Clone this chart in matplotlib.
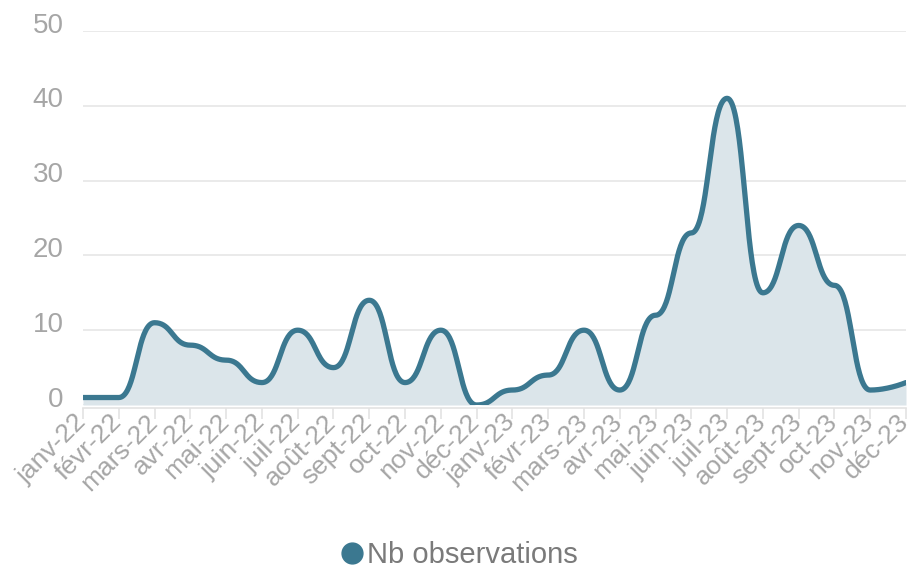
import numpy as np
import matplotlib
matplotlib.use("Agg")
import matplotlib.pyplot as plt
import matplotlib.transforms as mtransforms
from matplotlib.lines import Line2D

months = ["janv-22", "févr-22", "mars-22", "avr-22", "mai-22", "juin-22", "juil-22",
          "août-22", "sept-22", "oct-22", "nov-22", "déc-22", "janv-23", "févr-23",
          "mars-23", "avr-23", "mai-23", "juin-23", "juil-23", "août-23", "sept-23",
          "oct-23", "nov-23", "déc-23"]
observations = [1, 1, 11, 8, 6, 3, 10, 5, 14, 3, 10, 0, 2, 4, 10, 2, 12, 23, 41, 15, 24, 16, 2, 3]
yticks = [0, 10, 20, 30, 40, 50]


def smooth_path(x, y, smooth=0.5, n=40):
    """Cubic Bezier smoothing with horizontal tangents at each point (monotone in x)."""
    x = np.asarray(x, float)
    y = np.asarray(y, float)
    N = len(x)
    xs, ys = [], []
    for i in range(N - 1):
        dx = x[i + 1] - x[i]
        t = np.linspace(0, 1, n, endpoint=(i == N - 2))
        p0 = (x[i], y[i])
        p1 = (x[i] + smooth * dx, y[i]) if i > 0 else p0
        p3 = (x[i + 1], y[i + 1])
        p2 = (x[i + 1] - smooth * dx, y[i + 1]) if i + 1 < N - 1 else p3
        a = (1 - t) ** 3
        b = 3 * (1 - t) ** 2 * t
        c = 3 * (1 - t) * t ** 2
        d = t ** 3
        xs.append(a * p0[0] + b * p1[0] + c * p2[0] + d * p3[0])
        ys.append(a * p0[1] + b * p1[1] + c * p2[1] + d * p3[1])
    return np.concatenate(xs), np.concatenate(ys)


plt.rcParams['font.family'] = ['Liberation Sans', 'DejaVu Sans']

fig = plt.figure(figsize=(9.13, 5.70), dpi=100)
ax = fig.add_axes([83 / 913, 165 / 570, 823 / 913, 374 / 570])
for s in ["top", "right", "left"]:
    ax.spines[s].set_visible(False)
ax.spines["bottom"].set_position(("outward", 2))
ax.spines["bottom"].set_color("#e3e3e3")
ax.spines["bottom"].set_linewidth(1.2)

x = np.arange(len(months))
xs, ys = smooth_path(x, observations)
line_color = "#3b7890"
ax.fill_between(xs, 0, ys, color="#dbe5ea", zorder=2, lw=0)
ax.plot(xs, ys, color=line_color, lw=3.8, solid_capstyle="round",
        solid_joinstyle="round", zorder=3)

ax.set_xlim(0, len(months) - 1)
ax.set_ylim(0, 50)
ax.set_yticks(yticks)
ax.set_xticks(x)
ax.set_xticklabels(months)
ax.tick_params(axis="x", colors="#e3e3e3", length=8, width=1.2, labelcolor="#a6a6a6",
               labelsize=19, pad=0)
ax.tick_params(axis="y", length=0, labelcolor="#a6a6a6", labelsize=20, pad=14)

shift_x = mtransforms.ScaledTranslation(-0.5 / 72, 0.5 / 72, fig.dpi_scale_trans)
for lbl in ax.get_xticklabels():
    lbl.set_rotation(45)
    lbl.set_horizontalalignment("right")
    lbl.set_verticalalignment("center")
    lbl.set_rotation_mode("anchor")
    lbl.set_transform(lbl.get_transform() + shift_x)
shift_y = mtransforms.ScaledTranslation(0, 6 / 72, fig.dpi_scale_trans)
for lbl in ax.get_yticklabels():
    lbl.set_transform(lbl.get_transform() + shift_y)

ax.grid(axis="y", color="#e6e6e6", lw=1.2, zorder=1)

handle = Line2D([], [], marker="o", linestyle="none", markersize=15,
                markerfacecolor=line_color, markeredgecolor=line_color)
fig.legend([handle], ["Nb observations"], loc="center", bbox_to_anchor=(0.502, 1 - 555 / 570),
           frameon=False, fontsize=21, labelcolor="#7a7a7a", handletextpad=0.05,
           handlelength=0.9)

fig.savefig("out.png", dpi=100, facecolor="white")
